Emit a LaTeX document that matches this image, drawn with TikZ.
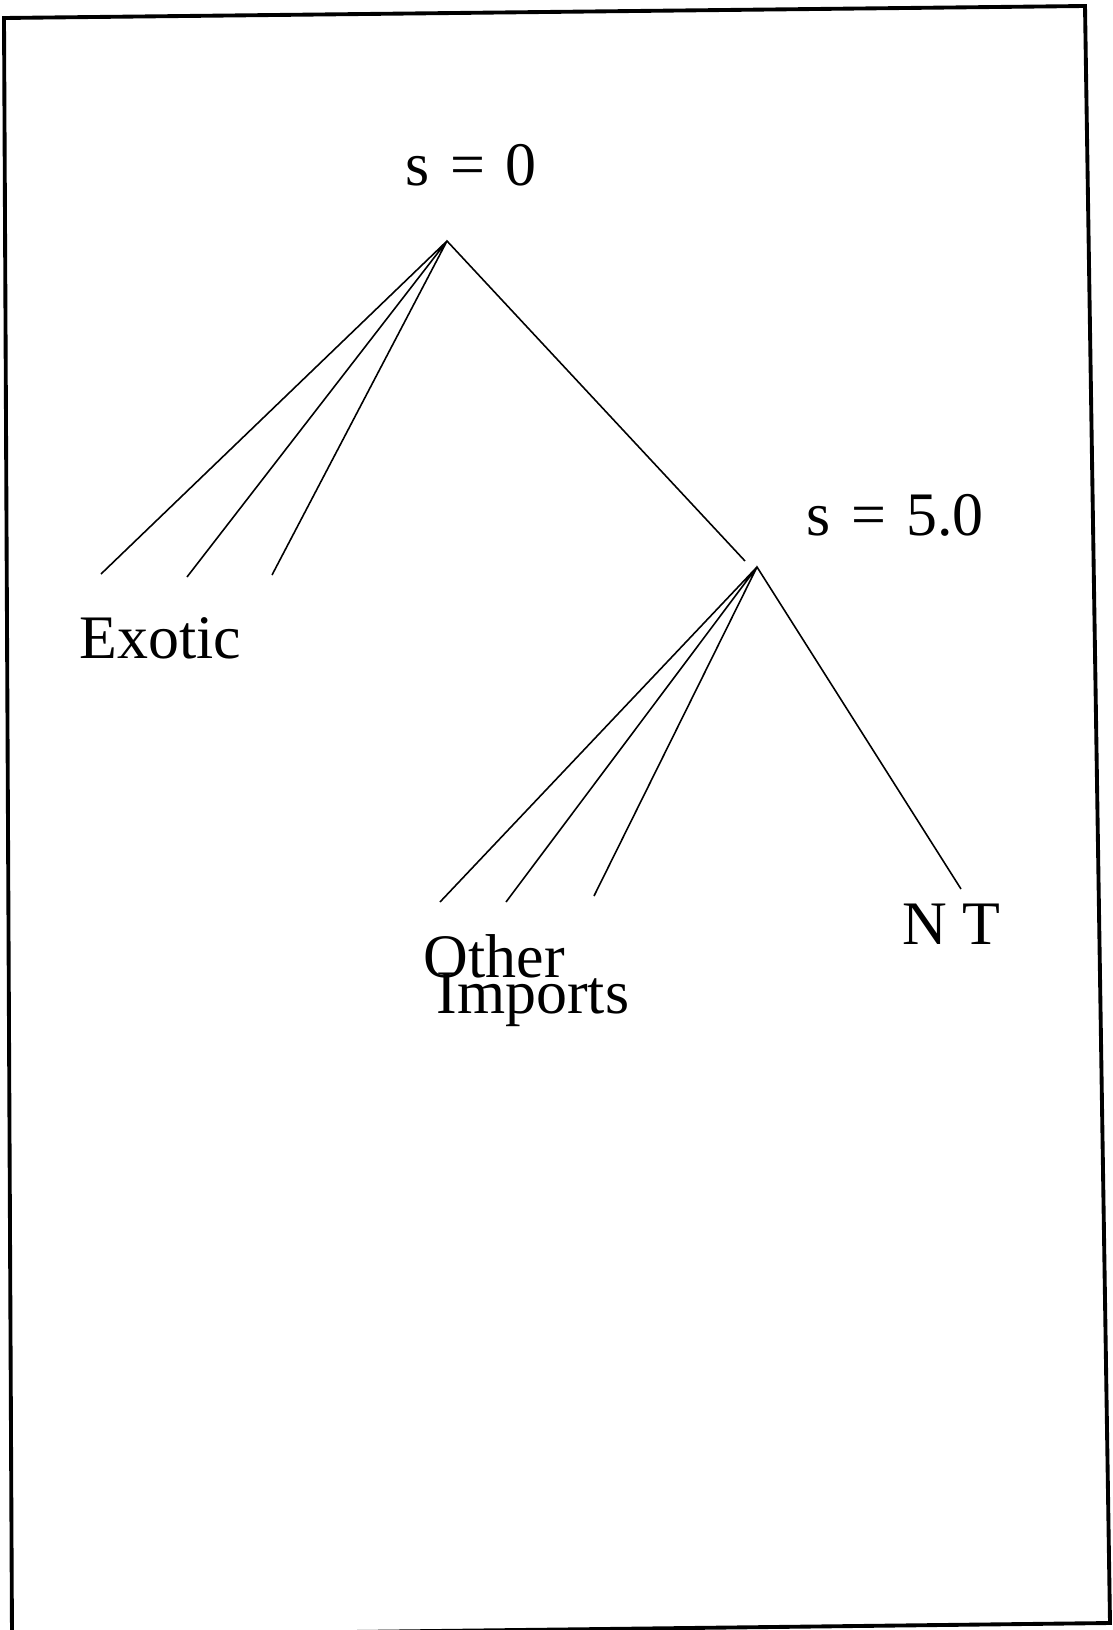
\documentclass[tikz,border=0pt]{standalone}
\usepackage{fontspec}
\setmainfont{Liberation Serif}
\begin{document}
\begin{tikzpicture}[
    x=0.01cm, y=-0.01cm,
    lbl/.style={anchor=base west,inner sep=0pt,font=\fontsize{17.6pt}{20pt}\selectfont},
    branch/.style={line width=0.45pt}
]
\useasboundingbox (0,0) rectangle (1113,1630);
\draw[line width=1.1pt] (4,18) -- (1085,6) -- (1110,1623) -- (12,1636) -- cycle;

\node[lbl] (top) at (405,185) {s\hspace{0.33em}=\hspace{0.33em}0};
\node[lbl] (mid) at (806,535) {s\hspace{0.33em}=\hspace{0.33em}5.0};
\node[lbl] (exotic) at (79,658) {Exotic};
\node[lbl] (other) at (423,977) {Other};
\node[lbl] (imports) at (436,1013) {Imports};
\node[lbl] (nt) at (902,944) {N T};

\coordinate (r) at (447,241);
\coordinate (e1) at (101,574);
\coordinate (e2) at (187,577);
\coordinate (e3) at (272,575);
\coordinate (m) at (745,561);
\coordinate (s) at (757,567);
\coordinate (o1) at (440,902);
\coordinate (o2) at (506,902);
\coordinate (o3) at (594,896);
\coordinate (n) at (961,889);

\draw[branch] (e1) -- (r) -- (e2) (e3) -- (r) -- (m);
\draw[branch] (o1) -- (s) -- (o2) (o3) -- (s) -- (n);
\end{tikzpicture}
\end{document}
